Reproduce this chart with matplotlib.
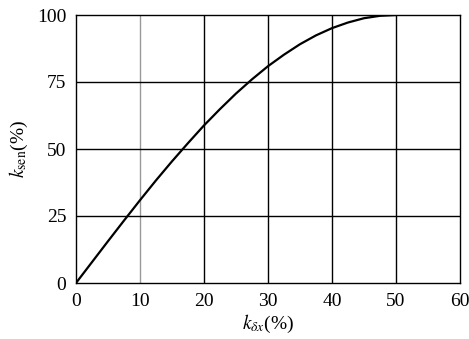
import matplotlib
matplotlib.use("Agg")
import matplotlib.pyplot as plt

# Data
k_dx = [0, 2.5, 5, 7.5, 10, 12.5, 15, 17.5, 20, 22.5, 25, 27.5, 30, 32.5, 35, 37.5, 40, 42.5, 45, 47.5, 50]
k_sen = [0, 7.8, 15.6, 23.3, 30.9, 38.3, 45.4, 52.2, 58.8, 64.9, 70.7, 76.0, 80.9, 85.2, 89.1, 92.4, 95.1, 97.2, 98.8, 99.7, 100]
x_ticks = [0, 10, 20, 30, 40, 50, 60]
y_ticks = [0, 25, 50, 75, 100]

plt.rcParams['font.family'] = ['Liberation Serif', 'DejaVu Serif']
plt.rcParams['mathtext.fontset'] = 'stix'

fig = plt.figure(figsize=(4.69, 3.39), dpi=100)
ax = fig.add_axes([76/469, 1-283/339, (460-76)/469, (283-15)/339])

for xv in x_ticks[1:-1]:
    ax.axvline(xv, color='#999999' if xv == 10 else 'black', lw=1.0, zorder=1)
for yv in y_ticks[1:-1]:
    ax.axhline(yv, color='black', lw=1.0, zorder=1)

ax.plot(k_dx, k_sen, color='black', lw=1.6, zorder=3, solid_capstyle='butt')

ax.set_xlim(0, 60)
ax.set_ylim(0, 100)
ax.set_xticks(x_ticks)
ax.set_yticks(y_ticks)
ax.tick_params(length=0, labelsize=14, pad=7)
for s in ax.spines.values():
    s.set_linewidth(1.0)
    s.set_color('black')

ax.set_xlabel(r'$k_{\delta x}$(%)', fontsize=14, labelpad=2)
ax.set_ylabel(r'$k_{\rm sen}$(%)', fontsize=14, labelpad=5)

fig.savefig('out.png', dpi=100)
